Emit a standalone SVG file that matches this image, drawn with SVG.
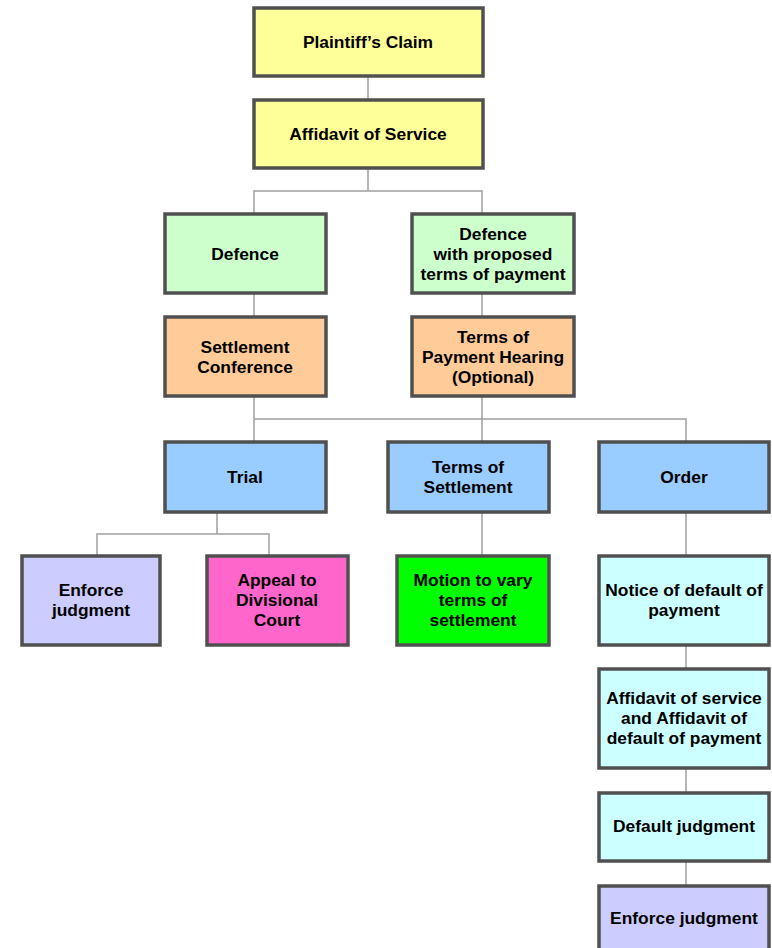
<svg xmlns="http://www.w3.org/2000/svg" width="772" height="948" viewBox="0 0 772 948">
<style>
.box{stroke:#505050;stroke-width:3.5}
.edge{fill:none;stroke:#a0a0a0;stroke-width:1.5}
text{font-family:"Liberation Sans",Arial,sans-serif;font-weight:bold;font-size:17.4px;fill:#000;text-anchor:middle}
</style>
<rect width="772" height="948" fill="#fff"/>
<g id="connectors">
<path class="edge" d="M368 76V99"/>
<path class="edge" d="M368 168V191M254 213V191H482V213"/>
<path class="edge" d="M254 294V316M482 294V316"/>
<path class="edge" d="M254 397V441M482 397V441M254 419H686V441"/>
<path class="edge" d="M217 512V534M97 555V534H269V555"/>
<path class="edge" d="M482 512V555"/>
<path class="edge" d="M686 512V555M686 645V668M686 768V792M686 861V885"/>
</g>
<g id="plaintiffs-claim"><rect class="box" x="254" y="8" width="229" height="68" fill="#ffff99"/><text x="368" y="48">Plaintiff’s Claim</text></g>
<g id="affidavit-of-service"><rect class="box" x="254" y="100" width="229" height="68" fill="#ffff99"/><text x="368" y="140">Affidavit of Service</text></g>
<g id="defence"><rect class="box" x="165" y="214" width="161" height="79" fill="#ccffcc"/><text x="245" y="260">Defence</text></g>
<g id="defence-proposed"><rect class="box" x="412" y="214" width="162" height="79" fill="#ccffcc"/><text x="493" y="240">Defence</text><text x="493" y="260">with proposed</text><text x="493" y="280">terms of payment</text></g>
<g id="settlement-conference"><rect class="box" x="165" y="317" width="161" height="79" fill="#ffcc99"/><text x="245" y="353">Settlement</text><text x="245" y="373">Conference</text></g>
<g id="terms-payment-hearing"><rect class="box" x="412" y="317" width="162" height="79" fill="#ffcc99"/><text x="493" y="343">Terms of</text><text x="493" y="363">Payment Hearing</text><text x="493" y="383">(Optional)</text></g>
<g id="trial"><rect class="box" x="165" y="442" width="161" height="70" fill="#99ccff"/><text x="245" y="483">Trial</text></g>
<g id="terms-settlement"><rect class="box" x="388" y="442" width="161" height="70" fill="#99ccff"/><text x="468" y="473">Terms of</text><text x="468" y="493">Settlement</text></g>
<g id="order"><rect class="box" x="599" y="442" width="170" height="70" fill="#99ccff"/><text x="684" y="483">Order</text></g>
<g id="enforce-judgment-1"><rect class="box" x="22" y="556" width="138" height="89" fill="#ccccff"/><text x="91" y="596">Enforce</text><text x="91" y="616">judgment</text></g>
<g id="appeal"><rect class="box" x="207" y="556" width="141" height="89" fill="#ff66cc"/><text x="277" y="586">Appeal to</text><text x="277" y="606">Divisional</text><text x="277" y="626">Court</text></g>
<g id="motion"><rect class="box" x="397" y="556" width="152" height="89" fill="#00ff00"/><text x="473" y="586">Motion to vary</text><text x="473" y="606">terms of</text><text x="473" y="626">settlement</text></g>
<g id="notice-default"><rect class="box" x="599" y="556" width="170" height="89" fill="#ccffff"/><text x="684" y="596">Notice of default of</text><text x="684" y="616">payment</text></g>
<g id="affidavit-default"><rect class="box" x="599" y="669" width="170" height="99" fill="#ccffff"/><text x="684" y="704">Affidavit of service</text><text x="684" y="724">and Affidavit of</text><text x="684" y="744">default of payment</text></g>
<g id="default-judgment"><rect class="box" x="599" y="793" width="170" height="68" fill="#ccffff"/><text x="684" y="832">Default judgment</text></g>
<g id="enforce-judgment-2"><rect class="box" x="599" y="886" width="170" height="80" fill="#ccccff"/><text x="684" y="924">Enforce judgment</text></g>
</svg>
